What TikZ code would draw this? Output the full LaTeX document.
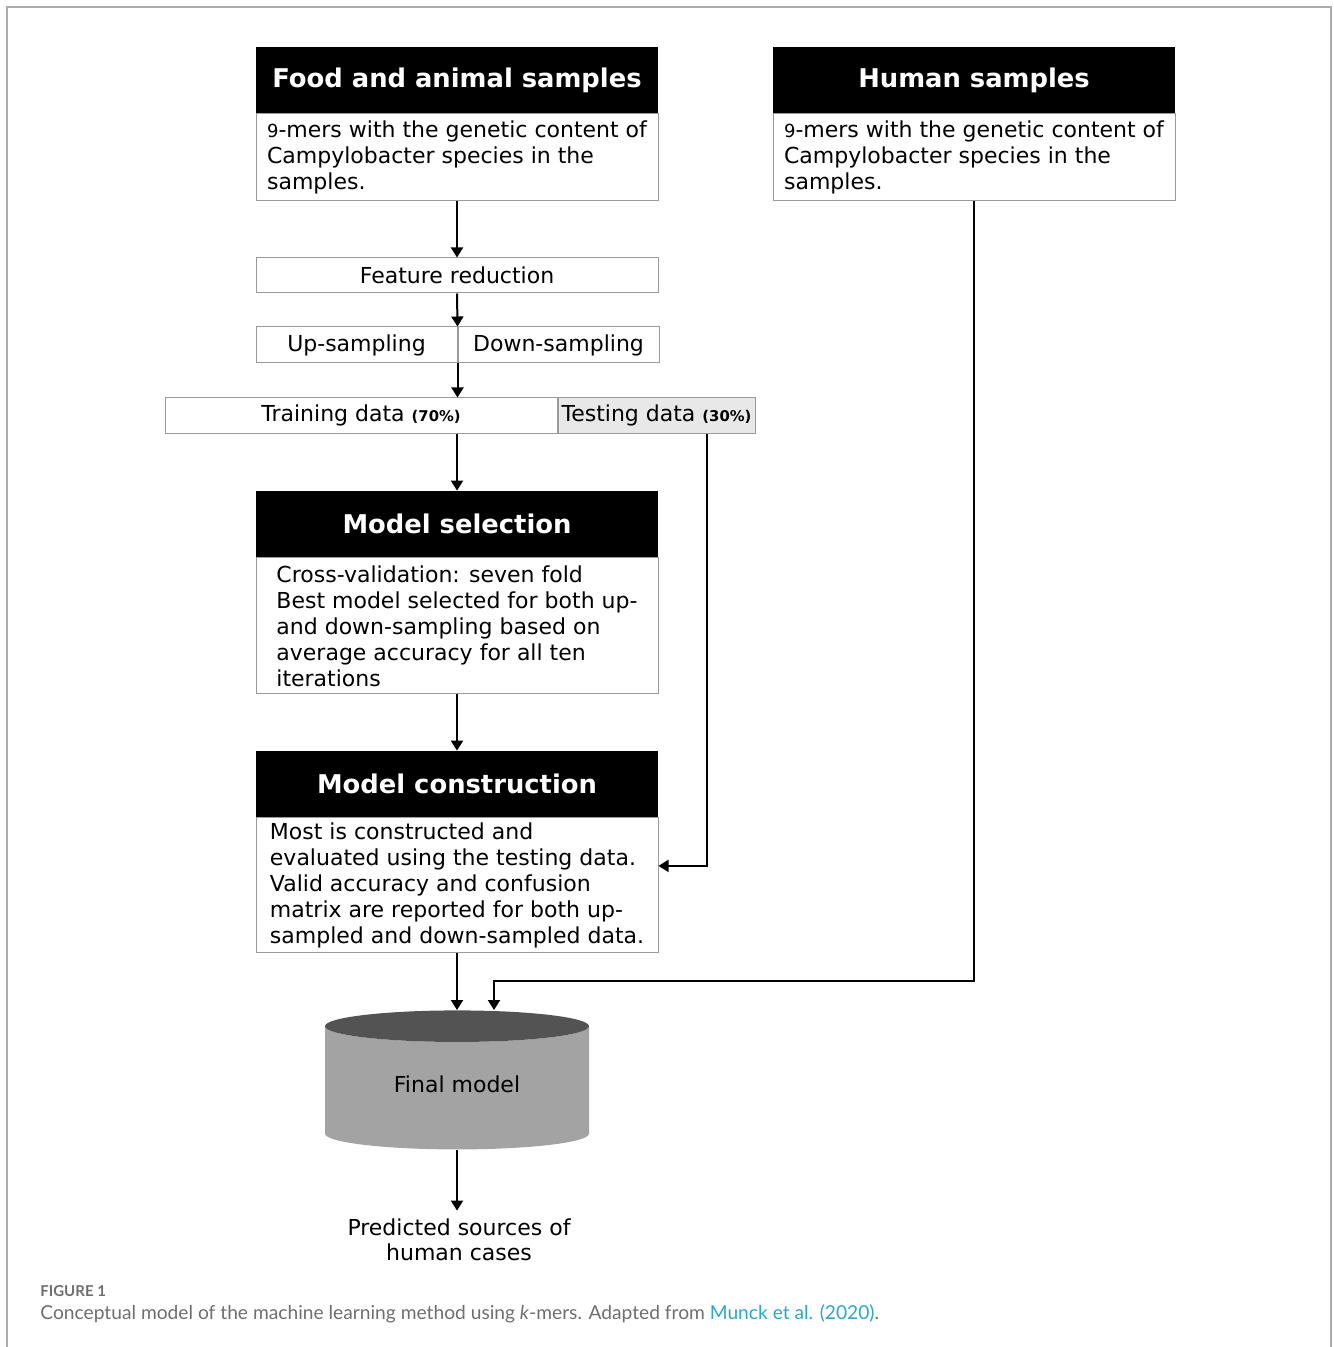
\documentclass[tikz,border=0pt]{standalone}
\usepackage{fontspec}
\setmainfont{DejaVu Sans}
\newfontfamily\capfont{Lato}
\usetikzlibrary{positioning,arrows.meta,shapes.geometric,calc}
\definecolor{frameGray}{HTML}{ABABAB}
\definecolor{boxGray}{HTML}{9A9A9A}
\definecolor{testFill}{HTML}{E8E8E8}
\definecolor{cylTop}{HTML}{535353}
\definecolor{cylBody}{HTML}{A3A3A3}
\definecolor{capGray}{HTML}{6E6E6E}
\definecolor{linkBlue}{HTML}{2BA8C4}
\tikzset{
  header/.style={rectangle, fill=black, text=white, minimum width=201pt, minimum height=33pt,
                 inner sep=0pt, font=\fontsize{12.9}{15}\selectfont\bfseries},
  body/.style={rectangle, draw=boxGray, line width=0.5pt, fill=white, minimum width=201pt,
               inner sep=0pt, align=left, font=\fontsize{11}{13}\selectfont},
  stage/.style={rectangle, draw=boxGray, line width=0.5pt, minimum height=17.75pt,
                inner sep=0pt, font=\fontsize{11}{13}\selectfont},
  store/.style={cylinder, shape border rotate=90, aspect=0.25, cylinder uses custom fill,
                cylinder end fill=cylTop, cylinder body fill=cylBody, inner sep=0pt,
                minimum width=132pt, minimum height=69.5pt, font=\fontsize{11}{13}\selectfont},
  flow/.style={-{Triangle[length=5pt,width=6pt]}, line width=1pt, draw=black}
}
\newcommand{\pctsize}{\fontsize{7.4}{9}\selectfont\bfseries}
\begin{document}
\begin{tikzpicture}[x=0.5pt,y=-0.5pt]
\useasboundingbox (0,0) rectangle (1333,1347);
\draw[frameGray, line width=0.75pt] (7,1347) -- (7,7) -- (1331,7) -- (1331,1347);

% input samples
\node[header] (fhead) at (457,80) {Food and animal samples};
\node[body, below=0pt of fhead, minimum height=43.5pt] (fbody)
  {{\small 9}-mers with the genetic content of\\
   Campylobacter species in the\\
   samples.};
\node[header] (hhead) at (974,80) {Human samples};
\node[body, below=0pt of hhead, minimum height=43.5pt] (hbody)
  {{\small 9}-mers with the genetic content of\\
   Campylobacter species in the\\
   samples.};

% preprocessing
\node[stage, minimum width=201pt, minimum height=17.5pt] (feat) at (457,275.5) {Feature reduction};
\node[stage, minimum width=100.5pt, minimum height=18pt] (up) at (356.5,345) {Up-sampling};
\node[stage, right=0pt of up, minimum width=100.5pt, minimum height=18pt] (down) {Down-sampling};
\node[stage, minimum width=196pt, minimum height=17.5pt] (train) at (361,415.5)
  {Training data {\pctsize(70\%)}};
\node[stage, right=0pt of train, fill=testFill, minimum width=98.5pt, minimum height=17.5pt] (test)
  {Testing data {\pctsize(30\%)}};

% models
\node[header] (mshead) at (457,524) {Model selection};
\node[body, below=0pt of mshead, minimum height=68pt] (msbody)
  {Cross-validation: seven fold\\
   Best model selected for both up-\\
   and down-sampling based on\\
   average accuracy for all ten\\
   iterations};
\node[header] (mchead) at (457,784) {Model construction};
\node[body, below=0pt of mchead, minimum height=67.5pt] (mcbody)
  {Most is constructed and\\
   evaluated using the testing data.\\
   Valid accuracy and confusion\\
   matrix are reported for both up-\\
   sampled and down-sampled data.};

\node[store] (fm) at (457,1088) {\raisebox{3.5pt}{Final model}};
\node[align=center, inner sep=0pt, font=\fontsize{11}{12.5}\selectfont] (pred) at (459,1240)
  {Predicted sources of\\human cases};

\coordinate (fmin) at ($(fm.north)+(37,0)$);
\coordinate (hbend) at ($(fmin)+(0,-29)$);

% connectors
\draw[flow] (fbody.south) -- (feat.north);
\draw[flow] (feat.south) -- (up.north east);
\draw[flow] (up.south east) -- (up.south east |- train.north);
\draw[flow] (mshead.north |- train.south) -- (mshead.north);
\draw[flow] (msbody.south) -- (mchead.north);
\draw[flow] (mcbody.south) -- (fm.north);
\draw[flow] ([xshift=25.25pt]test.south) |- ([yshift=9.75pt]mcbody.east);
\draw[flow] (hbody.south) |- (hbend) -- (fmin);
\draw[flow] (fm.south) -- ([yshift=4pt]fm.south |- pred.north);

% caption
\node[anchor=west, inner sep=0pt, text=capGray, font=\capfont\fontsize{7.5}{9}\selectfont\bfseries]
  (figlabel) at (40,1291) {FIGURE 1};
\node[anchor=west, inner sep=0pt, text=capGray, font=\capfont\fontsize{9.6}{11}\selectfont]
  (figcaption) at (40,1314)
  {Conceptual model of the machine learning method using \textit{k}-mers. Adapted from \textcolor{linkBlue}{Munck et al. (2020)}.};
\end{tikzpicture}
\end{document}
